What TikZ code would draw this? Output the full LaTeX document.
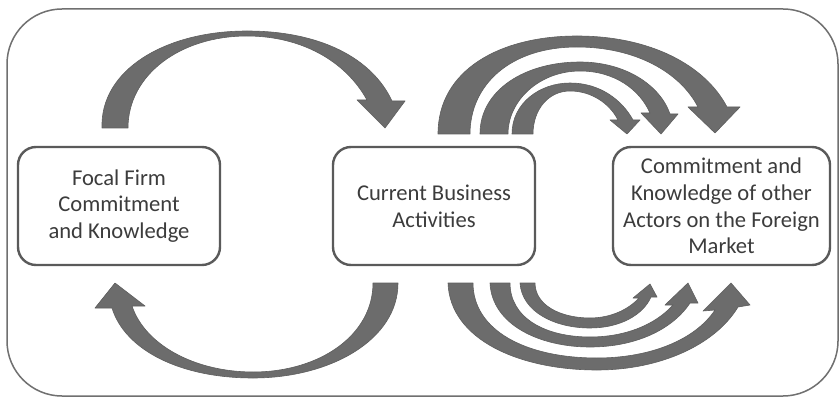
\documentclass[tikz,border=0pt]{standalone}
\usepackage{fontspec}
\setmainfont{Carlito}
\definecolor{arrowgray}{HTML}{6C6C6C}
\definecolor{arrowedge}{HTML}{5E5E5E}
\definecolor{boxgray}{HTML}{5A5A5A}
\definecolor{framegray}{HTML}{707070}
\definecolor{txtgray}{HTML}{3C3C3C}
\tikzset{
  blockarrow/.style={fill=arrowgray, draw=arrowedge, line width=0.6pt, line join=round},
  actorbox/.style={draw=boxgray, fill=white, line width=2.4pt, rounded corners=18pt,
    align=center, text=txtgray, font=\fontsize{22.6}{26.7}\selectfont, inner sep=0pt},
  outerframe/.style={draw=framegray, line width=1.5pt, rounded corners=55pt}
}
\begin{document}
\begin{tikzpicture}[x=1pt, y=-1pt]
\useasboundingbox (0,0) rectangle (840,398);
\fill[white] (0,0) rectangle (840,398);
\draw[outerframe] (7,9) rectangle (838,396);

% boxes
\node[actorbox, minimum width=202pt, minimum height=118pt] (focal) at (119,206)
  {Focal Firm\\Commitment\\and Knowledge};
\node[actorbox, minimum width=202pt, minimum height=118pt] (current) at (434,206)
  {Current Business\\Activities};
\node[actorbox, minimum width=217pt, minimum height=118pt] (other) at (721.5,206)
  {Commitment and\\Knowledge of other\\Actors on the Foreign\\Market};

% top-left arrow: focal -> current
\draw[blockarrow] (102,128) .. controls (100,70) and (165,31) .. (247,31)
  .. controls (320,31) and (372,58) .. (392,101)
  -- (405,101) -- (385,128) -- (357,100) -- (367,100)
  .. controls (345,60) and (300,36) .. (247,36)
  .. controls (180,36) and (128,75) .. (128,128) -- cycle;

% bottom-left arrow: current -> focal
\draw[blockarrow] (398,283) .. controls (398,340) and (330,378) .. (253,378)
  .. controls (180,378) and (125,350) .. (112,308)
  -- (95,308) -- (115,283) -- (145,306) -- (132,306)
  .. controls (145,345) and (195,372) .. (253,372)
  .. controls (320,372) and (373,335) .. (373,283) -- cycle;

% top-right arrows: current -> other
\draw[blockarrow] (438,134) .. controls (438,70) and (500,36) .. (577,36)
  .. controls (650,36) and (705,65) .. (727,107)
  -- (740,107) -- (715,133) -- (688,107) -- (698,107)
  .. controls (680,72) and (635,47) .. (577,47)
  .. controls (510,47) and (470,85) .. (470,134) -- cycle;
\draw[blockarrow] (480,134) .. controls (480,90) and (525,62) .. (580,62)
  .. controls (625,62) and (660,85) .. (670,114)
  -- (678,114) -- (661,134) -- (641,113) -- (650,113)
  .. controls (640,90) and (615,71) .. (580,71)
  .. controls (540,71) and (508,100) .. (508,134) -- cycle;
\draw[blockarrow] (512,134) .. controls (512,103) and (540,83) .. (570,83)
  .. controls (600,83) and (622,100) .. (633,120)
  -- (640,120) -- (627,134) -- (610,120) -- (618,120)
  .. controls (610,104) and (592,91) .. (570,91)
  .. controls (548,91) and (533,110) .. (533,134) -- cycle;

% bottom-right arrows: current -> other
\draw[blockarrow] (448,283) .. controls (450,340) and (520,370) .. (597,370)
  .. controls (660,370) and (715,345) .. (738,307)
  -- (750,305) -- (731,283) -- (703,311) -- (715,310)
  .. controls (695,340) and (650,358) .. (597,358)
  .. controls (525,358) and (473,330) .. (473,283) -- cycle;
\draw[blockarrow] (490,283) .. controls (492,325) and (540,347) .. (590,347)
  .. controls (635,347) and (672,330) .. (690,303)
  -- (698,303) -- (688,283) -- (665,305) -- (673,305)
  .. controls (655,325) and (625,337) .. (590,337)
  .. controls (545,337) and (510,318) .. (510,283) -- cycle;
\draw[blockarrow] (520,283) .. controls (522,312) and (555,328) .. (590,328)
  .. controls (620,328) and (643,315) .. (651,297)
  -- (657,297) -- (650,284) -- (633,298) -- (639,298)
  .. controls (628,310) and (610,318) .. (590,318)
  .. controls (560,318) and (535,305) .. (535,283) -- cycle;
\end{tikzpicture}
\end{document}
